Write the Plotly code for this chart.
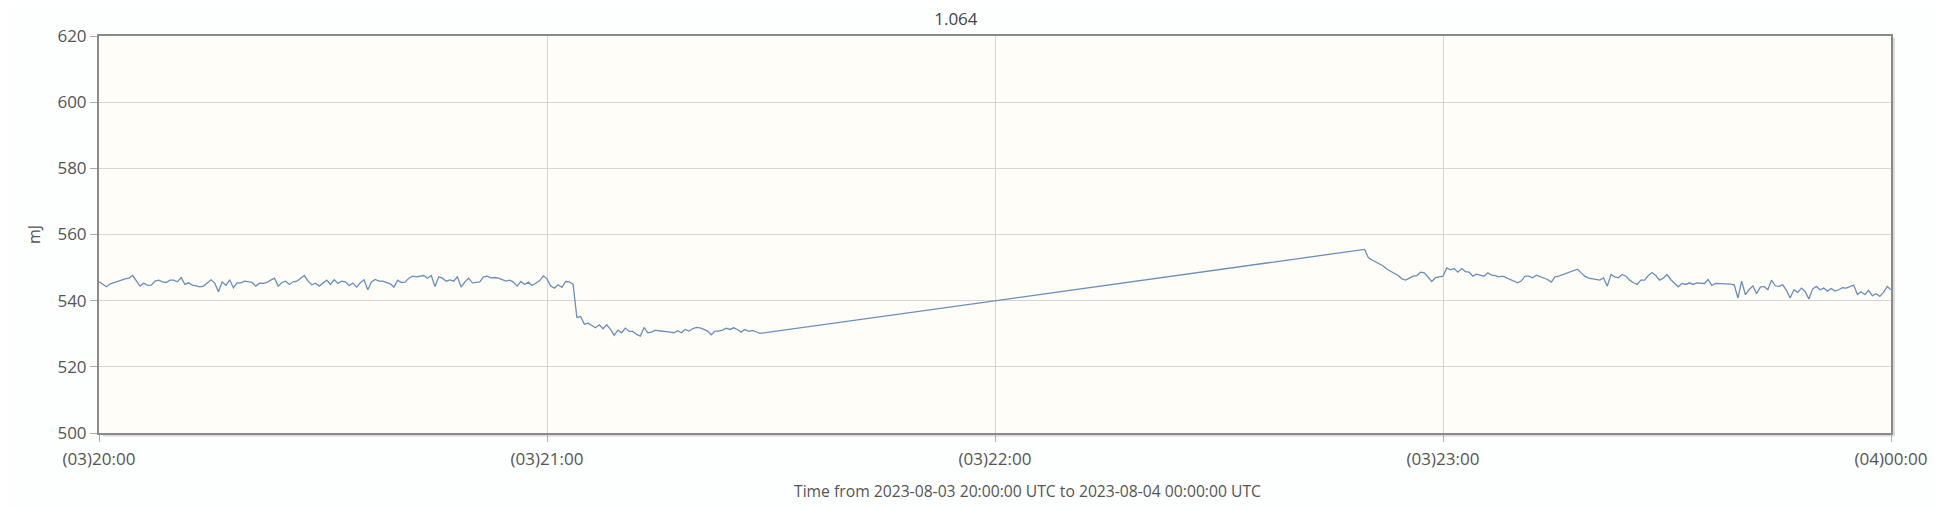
import pandas as pd
import plotly.graph_objects as go

# ---- data ----
title_text = "1.064"
y_label = "mJ"
x_label = "Time from 2023-08-03 20:00:00 UTC to 2023-08-04 00:00:00 UTC"

# segment 1: samples every 30 s from 2023-08-03 20:00:00
seg1_start = "2023-08-03 20:00:00"
seg1_values = [
    545.7, 544.9, 544.2, 545.1, 545.4, 545.7, 546.2, 546.6, 546.8, 547.6,
    545.9, 544.4, 545.3, 544.6, 544.7, 545.9, 546.2, 545.7, 545.5, 546.2,
    546.2, 545.7, 547.0, 544.9, 545.4, 544.7, 544.5, 544.2, 544.4, 545.5,
    546.3, 545.3, 542.7, 545.7, 544.6, 546.3, 543.9, 545.4, 545.4, 545.9,
    545.7, 545.5, 544.4, 545.3, 545.2, 545.5, 546.2, 546.8, 544.4, 545.5,
    545.9, 544.9, 545.7, 545.9, 546.8, 547.6, 545.9, 544.8, 545.3, 544.4,
    545.3, 546.2, 544.9, 546.3, 545.2, 545.9, 545.7, 544.6, 545.3, 544.1,
    545.4, 546.3, 543.3, 545.7, 546.4, 545.9, 545.9, 545.5, 545.1, 544.1,
    546.2, 545.5, 545.6, 546.8, 547.4, 547.2, 547.5, 547.6, 546.8, 547.6,
    544.3, 547.2, 546.8, 545.9, 546.3, 545.9, 547.2, 544.1, 545.7, 546.8,
    545.4, 545.6, 545.7, 547.2, 547.4, 546.9, 547.0, 546.8, 546.3, 545.9,
    546.2, 545.6, 544.4, 545.8, 544.9, 545.6, 544.6, 545.2, 546.0, 547.5,
    546.6, 544.4, 543.8, 544.8, 544.0, 545.8, 545.7, 544.9, 534.9, 535.2,
    532.9, 533.2, 532.5, 531.8, 532.7, 531.5, 532.7, 531.3, 529.5, 531.1,
    530.3, 531.7, 530.7, 530.7, 529.8, 529.3, 531.9, 530.3, 530.5, 531.1,
    530.9, 530.8, 530.8, 530.5, 530.3, 530.9, 530.3, 531.3, 530.8, 531.5,
    531.9, 531.8, 531.3, 530.8, 529.7, 530.8, 530.8, 531.1, 531.7, 531.3,
    531.8, 531.3, 530.5, 531.3, 530.7, 531.0, 530.6, 530.1,
]

# segment 2: samples every 30 s from 2023-08-03 22:49:30
seg2_start = "2023-08-03 22:49:30"
seg2_values = [
    555.5, 553.0, 552.3, 551.7, 551.2, 550.5, 549.5, 548.8, 548.2, 547.6,
    546.6, 546.2, 546.8, 547.4, 547.6, 548.6, 548.4, 547.2, 545.8, 547.0,
    547.2, 547.4, 549.9, 549.3, 549.7, 548.6, 549.7, 548.8, 548.6, 547.4,
    548.0, 547.6, 547.4, 548.4, 547.7, 547.6, 547.2, 547.4, 546.9, 546.2,
    545.8, 545.4, 546.0, 547.4, 547.4, 546.9, 547.7, 547.2, 546.8, 546.4,
    545.6, 547.2, 547.4, 547.8, 548.2, 548.5, 549.0, 549.5, 548.4, 547.4,
    546.8, 546.6, 546.4, 546.2, 546.9, 544.4, 547.9, 547.2, 546.9, 547.9,
    547.4, 546.2, 545.4, 544.9, 546.2, 546.2, 547.6, 548.5, 547.6, 546.2,
    546.8, 547.9, 546.4, 545.4, 544.2, 545.2, 544.9, 545.4, 544.9, 545.4,
    545.2, 545.2, 546.4, 544.6, 545.2, 545.2, 545.0, 545.2, 545.0, 544.8,
    540.8, 545.9, 541.8, 543.3, 544.5, 542.1, 544.1, 544.3, 543.3, 546.2,
    544.5, 544.3, 544.8, 543.1, 540.8, 543.3, 542.5, 543.8, 542.8, 540.5,
    543.5, 544.3, 543.3, 543.8, 542.9, 543.7, 542.9, 543.3, 543.9, 543.8,
    544.3, 544.7, 541.9, 542.7, 541.8, 543.1, 541.5, 542.1, 541.3, 542.5,
    544.3, 543.3,
]

x_range = ["2023-08-03 20:00:00", "2023-08-04 00:00:00"]
y_range = [500, 620]

# ---- build series ----
t1 = pd.date_range(seg1_start, periods=len(seg1_values), freq="30s")
t2 = pd.date_range(seg2_start, periods=len(seg2_values), freq="30s")
times = list(t1) + list(t2)
values = seg1_values + seg2_values

FONT = "Open Sans, Noto Sans, sans-serif"
TXT = "#555555"
AX = "#8a8a8a"

fig = go.Figure()
fig.add_trace(go.Scatter(
    x=times, y=values, mode="lines",
    line=dict(color="#6a8fbb", width=1.3),
    showlegend=False, hoverinfo="x+y",
))

fig.update_layout(
    width=1944, height=509,
    margin=dict(l=91, r=61, t=28, b=84, autoexpand=False),
    paper_bgcolor="#fdfefe",
    plot_bgcolor="#fffdf7",
    font=dict(family=FONT, size=17, color=TXT),
    title=dict(text=title_text, x=0.4876, xref="container", xanchor="center",
               y=0.978, yref="container", yanchor="middle",
               font=dict(family=FONT, size=17, color="#444444")),
)

fig.update_xaxes(
    type="date", range=x_range,
    dtick=3600000, tickformat="(%d)%H:%M",
    showgrid=True, gridcolor="#d6d6d6", gridwidth=1,
    showline=True, linecolor=AX, linewidth=2, mirror=True,
    ticks="outside", ticklen=7, tickcolor="#aaaaaa", tickwidth=1,
    ticklabelstandoff=3,
    tickfont=dict(family=FONT, size=17, color=TXT),
    zeroline=False, automargin=False,
)
fig.update_yaxes(
    range=y_range, dtick=20,
    showgrid=True, gridcolor="#d6d6d6", gridwidth=1,
    showline=True, linecolor=AX, linewidth=2, mirror=True,
    ticks="outside", ticklen=7, tickcolor="#aaaaaa", tickwidth=1,
    tickfont=dict(family=FONT, size=17, color=TXT),
    zeroline=False, automargin=False,
    title=dict(text=y_label, standoff=13, font=dict(family=FONT, size=16, color=TXT)),
)

# x-axis caption (sits slightly right of the plot centre in the reference)
fig.add_annotation(text=x_label, xref="paper", yref="paper", x=0.518, y=-0.146,
                   xanchor="center", yanchor="middle", showarrow=False,
                   font=dict(family=FONT, size=15.7, color=TXT))

# soft shadow under bottom/right frame edges
fig.add_shape(type="line", xref="paper", yref="paper", x0=0.002, x1=1.002,
              y0=-0.006, y1=-0.006, line=dict(color="#dadada", width=2), layer="below")
fig.add_shape(type="line", xref="paper", yref="paper", x0=1.0016, x1=1.0016,
              y0=-0.006, y1=0.995, line=dict(color="#dadada", width=2), layer="below")

fig.write_html("out.html", config={"displayModeBar": False})
